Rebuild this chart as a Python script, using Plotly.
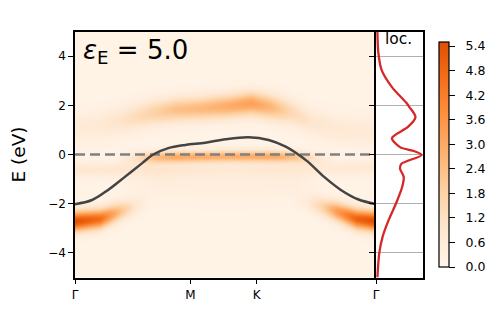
import numpy as np
import plotly.graph_objects as go

# ---------------- data ----------------
# k-path ticks (path coordinate)
tick_pos = [0.0, 1.15, 1.81, 3.0]
tick_labels = ["Γ", "M", "K", "Γ"]

# non-interacting band (dark line)
band_k = [0.0, 0.17, 0.33, 0.50, 0.67, 0.78, 0.93, 1.10, 1.30, 1.50, 1.73, 1.93,
          2.10, 2.20, 2.32, 2.48, 2.65, 2.82, 3.0]
band_E = [-2.02, -1.85, -1.44, -0.90, -0.35, 0.0, 0.26, 0.39, 0.48, 0.62, 0.70, 0.59,
          0.32, 0.07, -0.29, -0.90, -1.44, -1.82, -2.02]

# spectral-function features: (k, centre energy, amplitude, width)
low_left_k = [0.0, 0.25, 0.45, 0.6, 0.75]
low_left_E = [-2.7, -2.6, -2.3, -2.1, -2.0]
low_left_A = [5.3, 4.5, 2.2, 0.7, 0.0]
low_left_w = [0.28, 0.27, 0.26, 0.25, 0.25]

low_right_k = [2.15, 2.3, 2.45, 2.6, 2.8, 3.0]
low_right_E = [-1.9, -1.95, -2.1, -2.3, -2.6, -2.7]
low_right_A = [0.0, 0.4, 1.5, 3.2, 4.8, 5.4]
low_right_w = [0.25, 0.25, 0.26, 0.27, 0.28, 0.28]

flat_k = [0.4, 0.6, 0.8, 1.0, 1.5, 2.0, 2.2, 2.4, 2.6]
flat_E = [-0.15, -0.12, -0.1, -0.08, -0.06, -0.06, -0.08, -0.12, -0.15]
flat_A = [0.0, 0.9, 2.3, 2.8, 2.7, 2.8, 2.0, 0.7, 0.0]
flat_w = [0.16, 0.16, 0.16, 0.16, 0.16, 0.16, 0.16, 0.16, 0.16]

up_k = [0.0, 0.25, 0.5, 0.75, 1.0, 1.25, 1.55, 1.75, 1.95, 2.15, 2.35, 2.6, 3.0]
up_E = [1.1, 1.2, 1.45, 1.7, 1.85, 1.9, 2.0, 2.1, 1.95, 1.75, 1.35, 1.05, 0.95]
up_A = [0.5, 0.6, 1.0, 1.6, 2.2, 2.4, 2.8, 3.1, 2.5, 1.4, 0.8, 0.6, 0.5]
up_w = [0.4, 0.4, 0.38, 0.35, 0.33, 0.33, 0.33, 0.33, 0.34, 0.35, 0.37, 0.4, 0.4]

faint_k = [0.0, 0.8, 1.5, 2.2, 3.0]
faint_E = [-0.6, -0.55, -0.6, -0.55, -0.5]
faint_A = [0.7, 0.6, 0.45, 0.5, 0.6]
faint_w = [0.2, 0.2, 0.2, 0.2, 0.2]

broad_k = [0.3, 0.8, 1.5, 2.2, 2.5]
broad_E = [-1.0, -1.1, -1.2, -1.1, -1.0]
broad_A = [0.0, 0.35, 0.3, 0.35, 0.0]
broad_w = [0.5, 0.5, 0.5, 0.5, 0.5]

background_level = 0.15

# local spectral function (side panel)
loc_E = [5.0, 4.13, 3.43, 2.74, 2.09, 1.93, 1.52, 1.12, 0.67, 0.30, 0.13, -0.02,
         -0.38, -0.57, -0.91, -1.30, -1.97, -2.66, -3.35, -4.0, -5.0]
loc_v = [0.03, 0.05, 0.12, 0.34, 0.65, 0.71, 0.84, 0.68, 0.34, 0.51, 0.82, 0.97,
         0.54, 0.51, 0.59, 0.56, 0.43, 0.27, 0.14, 0.07, 0.03]

cbar_ticks = [0.0, 0.6, 1.2, 1.8, 2.4, 3.0, 3.6, 4.2, 4.8, 5.4]

# ---------------- build the map ----------------
kg = np.linspace(0, 3, 301)
Eg = np.linspace(-5, 5, 251)
K, E = np.meshgrid(kg, Eg)


def feature(ks, es, amps, ws):
    c = np.interp(kg, ks, es)
    a = np.interp(kg, ks, amps, left=0, right=0)
    w = np.interp(kg, ks, ws)
    return a[None, :] * np.exp(-0.5 * ((E - c[None, :]) / w[None, :]) ** 2)


Z = np.full_like(E, background_level)
for f in [(low_left_k, low_left_E, low_left_A, low_left_w),
          (low_right_k, low_right_E, low_right_A, low_right_w),
          (flat_k, flat_E, flat_A, flat_w),
          (up_k, up_E, up_A, up_w),
          (faint_k, faint_E, faint_A, faint_w),
          (broad_k, broad_E, broad_A, broad_w)]:
    Z = Z + feature(*f)

oranges = [[0.0, "#fff5eb"], [0.174, "#fee6ce"], [0.347, "#fdd0a2"],
           [0.521, "#fdae6b"], [0.694, "#fd8d3c"], [0.868, "#f16913"],
           [1.0, "#df5005"]]

# the page body has an 8px default margin: lay out in window pixels
OFF = 8
W, H = 499 - OFF, 309 - OFF
FONT = "DejaVu Sans"


def fx(px):
    return (px - OFF) / W


def fy(py):
    return 1 - (py - OFF) / H


x0, x1, x2 = fx(75), fx(376), fx(423)
ylo, yhi = fy(277.5), fy(31.5)

fig = go.Figure()
fig.add_trace(go.Heatmap(
    x=kg, y=Eg, z=Z, colorscale=oranges, zmin=0, zmax=5.5, zsmooth="best",
    xaxis="x", yaxis="y",
    colorbar=dict(x=fx(439), xanchor="left", xpad=0, ypad=0,
                  y=fy(154.5), yanchor="middle",
                  lenmode="pixels", len=225, thickness=10,
                  tickvals=cbar_ticks,
                  ticktext=["\u00a0\u00a0" + f"{t:.1f}" for t in cbar_ticks],
                  ticks="outside", ticklen=6, tickwidth=1.2, tickcolor="black",
                  outlinewidth=1.2, outlinecolor="black",
                  tickfont=dict(family=FONT, size=12.5, color="black"))))
fig.add_trace(go.Scatter(x=[0, 3], y=[0, 0], mode="lines",
                         line=dict(color="#808080", width=2.6, dash="10px,5px"),
                         xaxis="x", yaxis="y", showlegend=False))
fig.add_trace(go.Scatter(x=band_k, y=band_E, mode="lines",
                         line=dict(color="#444444", width=2.5, shape="spline"),
                         xaxis="x", yaxis="y", showlegend=False))
fig.add_trace(go.Scatter(x=loc_v, y=loc_E, mode="lines",
                         line=dict(color="#d62728", width=2.3, shape="spline", smoothing=0.8),
                         xaxis="x2", yaxis="y2", showlegend=False))

tickfont = dict(family=FONT, size=12, color="black")
fig.update_layout(
    width=W, height=H, margin=dict(l=0, r=0, t=0, b=0, autoexpand=False),
    paper_bgcolor="white", plot_bgcolor="white", showlegend=False,
    xaxis=dict(domain=[x0, x1], range=[0, 3], tickvals=tick_pos, ticktext=tick_labels,
               ticks="outside", ticklen=5, tickwidth=1.3, tickcolor="black",
               anchor="y", showline=True, linecolor="black", linewidth=1.5,
               mirror=True, zeroline=False, showgrid=False, tickfont=tickfont),
    yaxis=dict(domain=[ylo, yhi], range=[-5, 5], tickvals=[-4, -2, 0, 2, 4],
               ticks="outside", ticklen=5, tickwidth=1.3, tickcolor="black",
               anchor="x", showline=True, linecolor="black", linewidth=1.5,
               mirror=False, zeroline=False, showgrid=False, tickfont=tickfont),
    xaxis2=dict(domain=[x1, x2], range=[0, 1], showticklabels=False, ticks="",
                anchor="y2", showline=True, linecolor="black", linewidth=1.5,
                mirror=True, zeroline=False, showgrid=False),
    yaxis2=dict(domain=[ylo, yhi], range=[-5, 5], tickvals=[-4, -2, 0, 2, 4],
                showticklabels=False, ticks="outside", ticklen=5, tickwidth=1.3,
                tickcolor="black", anchor="x2", showline=True, linecolor="black",
                linewidth=1.5, mirror=True, zeroline=False, showgrid=True,
                gridcolor="#b0b0b0", gridwidth=1.2),
    annotations=[
        dict(text="<i>ε</i><sub>E</sub> = 5.0", x=fx(81), y=fy(33),
             xref="paper", yref="paper", xanchor="left", yanchor="top",
             showarrow=False, font=dict(family=FONT, size=26, color="black")),
        dict(text="E (eV)", x=fx(18), y=fy(154.5), xref="paper", yref="paper",
             xanchor="center", yanchor="middle",
             textangle=-90, showarrow=False,
             font=dict(family=FONT, size=18.5, color="black")),
        dict(text="loc.", x=fx(398), y=fy(39), xref="paper", yref="paper",
             xanchor="center", yanchor="middle",
             showarrow=False,
             font=dict(family=FONT, size=15.5, color="black")),
    ],
)

fig.write_html("out.html")
